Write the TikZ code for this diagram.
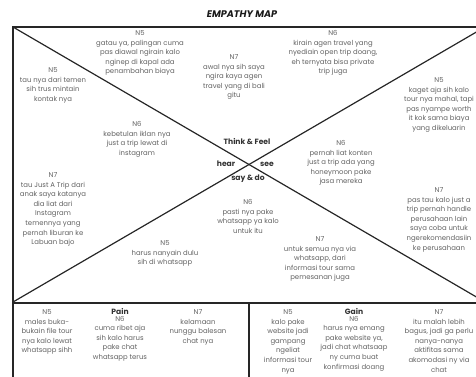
\documentclass[tikz,border=0pt]{standalone}
\usepackage{fontspec}
\setmainfont{Poppins}
\usetikzlibrary{positioning}
\tikzset{
  >=stealth,
  line cap=round,
  line join=round,
  every picture/.style={line width=0.9pt},
  note/.style={align=center, inner sep=0pt, anchor=north, text=black!62,
    font=\fontsize{6.9}{9.6}\selectfont},
  zone/.style={inner sep=0pt, text=black!80, font=\fontsize{7.6}{9}\selectfont\bfseries},
  frame/.style={draw=black!85, line width=1.6pt},
  cross/.style={draw=black!85, line width=1.2pt}
}

\begin{document}
\begin{tikzpicture}[x=1pt, y=-1pt]
    \clip (0,0) rectangle (476,376);

    % corners of the map
    \coordinate (tl) at (13,27);
    \coordinate (tr) at (485,27);
    \coordinate (bl) at (13,302);
    \coordinate (br) at (485,302);
    \coordinate (bottomleft) at (13,380);
    \coordinate (splittop) at (249,303);
    \coordinate (splitbot) at (249,380);
    \coordinate (rowleft) at (13,303);
    \coordinate (rowright) at (485,303);

    \node[font=\fontsize{9.6}{10}\selectfont\bfseries\itshape, text=black!90] (title) at (242,14.5) {EMPATHY MAP};

    \draw[frame] (tr) -- (tl) -- (bottomleft);
    \draw[frame] (rowleft) -- (rowright);
    \draw[frame] (splittop) -- (splitbot);
    \draw[cross] (tl) -- (br);
    \draw[cross] (bl) -- (tr);

    % middle labels
    \node[zone] (think) at (247,141) {Think \& Feel};
    \node[zone] (hear) at (226,164) {hear};
    \node[zone] (see) at (267,164) {see};
    \node[zone] (say) at (248,179) {say \& do};

    % think & feel
    \node[note] (tfa) at (140,30) {N5\\gatau ya, palingan cuma\\pas diawal ngirain kalo\\nginep di kapal ada\\penambahan biaya};
    \node[note] (tfb) at (234,54) {N7\\awal nya sih saya\\ngira kaya agen\\travel yang di bali\\gitu};
    \node[note] (tfc) at (333,30) {N6\\kirain agen travel yang\\nyediain open trip doang,\\eh ternyata bisa private\\trip juga};

    % hear
    \node[note] (ha) at (53,67) {N5\\tau nya dari temen\\sih trus mintain\\kontak nya};
    \node[note] (hb) at (137,121) {N6\\kebetulan iklan nya\\just a trip lewat di\\instagram};
    \node[note] (hc) at (53,172) {N7\\tau Just A Trip dari\\anak saya katanya\\dia liat dari\\Instagram\\temennya yang\\pernah liburan ke\\Labuan bajo};

    % see
    \node[note] (sa) at (439,77) {N5\\kaget aja sih kalo\\tour nya mahal, tapi\\pas nyampe worth\\it kok sama biaya\\yang dikeluarin};
    \node[note] (sb) at (341,140) {N6\\pernah liat konten\\just a trip ada yang\\honeymoon pake\\jasa mereka};
    \node[note] (sc) at (439,187) {N7\\pas tau kalo just a\\trip pernah handle\\perusahaan lain\\saya coba untuk\\ngerekomendasiin\\ke perusahaan};

    % say & do
    \node[note] (da) at (248,199) {N6\\pasti nya pake\\whatsapp ya kalo\\untuk itu};
    \node[note] (db) at (165,240) {N5\\harus nanyain dulu\\sih di whatsapp};
    \node[note] (dc) at (320,236) {N7\\untuk semua nya via\\whatsapp, dari\\informasi tour sama\\pemesanan juga};

    % pain
    \node[zone] (pain) at (120,311) {Pain};
    \node[note] (pa) at (47,309) {N5\\males buka-\\bukain file tour\\nya kalo lewat\\whatsapp sihh};
    \node[note, below=1pt of pain] (pb) {N6\\cuma ribet aja\\sih kalo harus\\pake chat\\whatsapp terus};
    \node[note] (pc) at (198,309) {N7\\kelamaan\\nunggu balesan\\chat nya};

    % gain
    \node[zone] (gain) at (354,311) {Gain};
    \node[note] (ga) at (288,309) {N5\\kalo pake\\website jadi\\gampang\\ngeliat\\informasi tour\\nya};
    \node[note, below=1pt of gain] (gb) {N6\\harus nya emang\\pake website ya,\\jadi chat whatsaap\\ny cuma buat\\konfirmasi doang};
    \node[note] (gc) at (439,309) {N7\\itu malah lebih\\bagus, jadi ga perlu\\nanya-nanya\\aktifitas sama\\akomodasi ny via\\chat};
\end{tikzpicture}
\end{document}
